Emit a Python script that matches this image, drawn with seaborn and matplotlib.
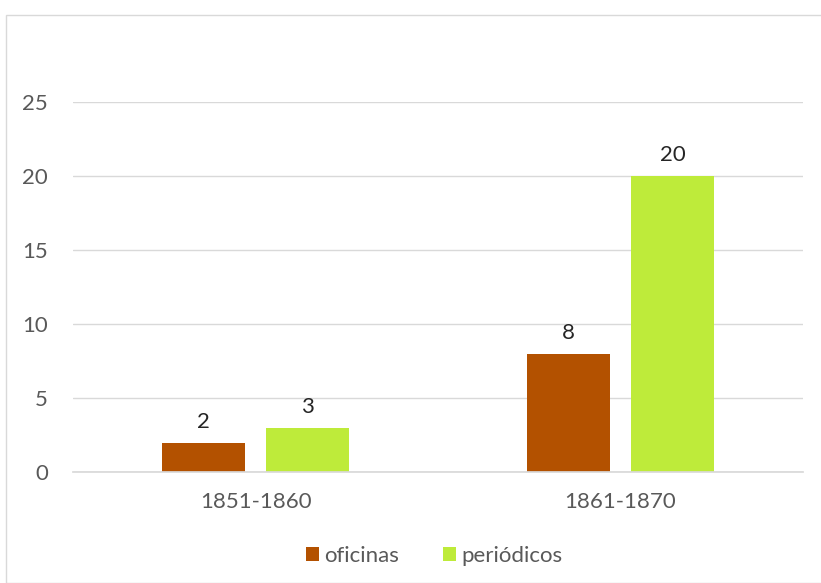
import matplotlib.pyplot as plt
import matplotlib.patches as mpatches
import pandas as pd
import seaborn as sns

# data
periods = ['1851-1860', '1861-1870']
oficinas = [2, 8]
periodicos = [3, 20]
series_names = ['oficinas', 'periódicos']
colors = ['#B35100', '#BEEB3A']

df = pd.DataFrame({
    'periodo': periods * 2,
    'serie': [series_names[0]] * len(periods) + [series_names[1]] * len(periods),
    'valor': oficinas + periodicos,
})

sns.set_theme(style='white')
plt.rcParams['font.family'] = ['Lato', 'DejaVu Sans']

fig = plt.figure(figsize=(8.21, 5.83), dpi=100)
ax = fig.add_axes([0.089, 0.19, 0.889, 0.635])

sns.barplot(data=df, x='periodo', y='valor', hue='serie', order=periods,
            hue_order=series_names, palette=colors, width=0.57, gap=0.21,
            saturation=1, linewidth=0, ax=ax, legend=True)

for cont in ax.containers:
    ax.bar_label(cont, padding=8, fontsize=16, color='#262626')

ax.set_ylim(0, 25)
ax.set_xlim(-0.5, 1.5)
ax.set_yticks(range(0, 26, 5))
ax.yaxis.grid(True, color='#D9D9D9', linewidth=1)
ax.set_axisbelow(True)
ax.set_xlabel('')
ax.set_ylabel('')
for s in ['top', 'right', 'left']:
    ax.spines[s].set_visible(False)
ax.spines['bottom'].set_color('#D9D9D9')
ax.tick_params(axis='both', length=0, labelsize=16, labelcolor='#595959')
ax.tick_params(axis='y', pad=18)
ax.tick_params(axis='x', pad=14)

ax.legend(loc='upper center', bbox_to_anchor=(0.495, -0.145), ncol=2,
          frameon=False, fontsize=16, handlelength=0.55, handleheight=0.55,
          handletextpad=0.25, columnspacing=2.0, labelcolor='#595959')

# light outer frame like the chart area border
fig.patches.append(mpatches.Rectangle((6 / 821, 0), 1.0, 1 - 15 / 583,
                                      transform=fig.transFigure, fill=False,
                                      edgecolor='#D9D9D9', linewidth=1))

fig.savefig('out.png', dpi=100)
